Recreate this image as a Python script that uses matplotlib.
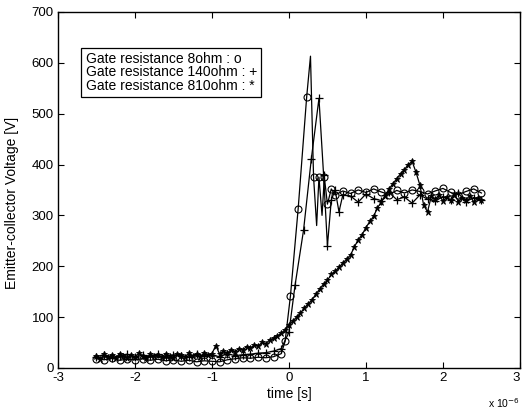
import matplotlib
matplotlib.use("Agg")
import matplotlib.pyplot as plt
import numpy as np

plt.rcParams['font.family'] = ['Liberation Sans', 'DejaVu Sans']
plt.rcParams['axes.unicode_minus'] = False

# time in microseconds, voltage in V
t_8 = [-2.5, -2.4, -2.3, -2.2, -2.1, -2.0, -1.9, -1.8, -1.7, -1.6, -1.5, -1.4,
       -1.3, -1.2, -1.1, -1.0, -0.9, -0.8, -0.7, -0.6, -0.5, -0.4, -0.3, -0.2,
       -0.1, -0.05, 0.02, 0.12, 0.23, 0.28, 0.32, 0.36, 0.39, 0.43, 0.46, 0.5,
       0.55, 0.6, 0.7, 0.8, 0.9, 1.0, 1.1, 1.2, 1.3, 1.4, 1.5, 1.6, 1.7, 1.8,
       1.9, 2.0, 2.1, 2.2, 2.3, 2.4, 2.5]
v_8 = [18, 16, 19, 15, 17, 16, 18, 15, 17, 14, 16, 13, 15, 12, 14, 13, 12, 16,
       18, 20, 19, 21, 20, 22, 28, 52, 142, 313, 532, 613, 375, 280, 375, 300,
       375, 322, 352, 340, 348, 343, 350, 345, 352, 346, 341, 349, 344, 350,
       347, 342, 348, 353, 345, 341, 347, 352, 344]
marks_8 = [i for i in range(len(t_8)) if i not in (29, 31, 33)]

t_140 = [-2.5, -2.4, -2.3, -2.2, -2.1, -2.0, -1.9, -1.8, -1.7, -1.6, -1.5, -1.4,
         -1.3, -1.2, -1.1, -1.0, -0.9, -0.8, -0.7, -0.6, -0.5, -0.4, -0.3, -0.2,
         -0.1, 0.0, 0.08, 0.19, 0.29, 0.39, 0.45, 0.5, 0.55, 0.6, 0.65, 0.7,
         0.8, 0.9, 1.0, 1.1, 1.2, 1.3, 1.4, 1.5, 1.6, 1.7, 1.8, 1.9, 2.0, 2.1,
         2.2, 2.3, 2.4, 2.5]
v_140 = [22, 26, 20, 24, 27, 21, 25, 23, 28, 22, 26, 24, 21, 27, 23, 25, 22, 28,
         24, 26, 27, 29, 30, 33, 38, 70, 163, 271, 410, 530, 380, 240, 330, 350,
         307, 340, 338, 326, 342, 333, 329, 345, 331, 336, 324, 340, 332, 328,
         337, 330, 343, 327, 335, 331]

t_810 = [round(-2.5 + 0.05 * i, 2) for i in range(101)]
v_810 = [24, 18, 27, 21, 25, 19, 28, 23, 20, 26, 22, 29, 24, 19, 27, 23, 26, 21,
         28, 24, 20, 27, 25, 22, 29, 24, 27, 21, 30, 26, 28,
         44, 27, 33, 29, 36, 32, 38, 35, 42, 39, 45, 43, 50, 48, 55, 58, 63, 68,
         75, 85,
         92, 100, 108, 118, 126, 134, 145, 155, 165, 172, 184, 190, 198, 206,
         214, 222, 238, 252, 262, 276, 288, 298, 315, 326, 338, 352, 362, 372,
         382, 390, 400,
         406, 385, 360, 320, 307, 338, 332, 340, 328, 336, 330, 342, 327, 335,
         331, 339, 326, 334, 330]

x_ticks = [-3, -2, -1, 0, 1, 2, 3]
y_ticks = [0, 100, 200, 300, 400, 500, 600, 700]

fig = plt.figure(figsize=(5.22, 4.12), dpi=100)
ax = fig.add_axes([0.111, 0.107, 0.885, 0.864])

ax.plot(t_8, v_8, color='black', lw=0.9, marker='o', markevery=marks_8,
        ms=5, mfc='none', mec='black', mew=0.8)
ax.plot(t_140, v_140, color='black', lw=0.9, marker='+', ms=6, mew=0.9)
ax.plot(t_810, v_810, color='black', lw=0.9, marker='*', ms=5, mew=0.6)

ax.set_xlim(-3, 3)
ax.set_ylim(0, 700)
ax.set_xticks(x_ticks)
ax.set_yticks(y_ticks)
ax.tick_params(direction='in', top=True, right=True, length=4, labelsize=9.5,
               width=0.8, pad=3)
# last x tick label sits on the figure edge, keep it inside
ax.get_xticklabels()[-1].set_ha('right')
for s in ax.spines.values():
    s.set_linewidth(1.0)

ax.set_xlabel('time [s]', fontsize=10, labelpad=2)
ax.set_ylabel('Emitter-collector Voltage [V]', fontsize=10)
ax.yaxis.set_label_coords(-0.084, 0.463)
ax.text(0.999, -0.114, r'x 10$^{-6}$', transform=ax.transAxes, fontsize=7.5,
        va='baseline', ha='right')

ax.text(0.06, 0.888,
        'Gate resistance 8ohm : o\nGate resistance 140ohm : +\nGate resistance 810ohm : *',
        transform=ax.transAxes, fontsize=10, va='top', ha='left', linespacing=0.95,
        bbox=dict(boxstyle='square,pad=0.3', fc='white', ec='black', lw=0.9))

fig.savefig('out.png', dpi=100)
